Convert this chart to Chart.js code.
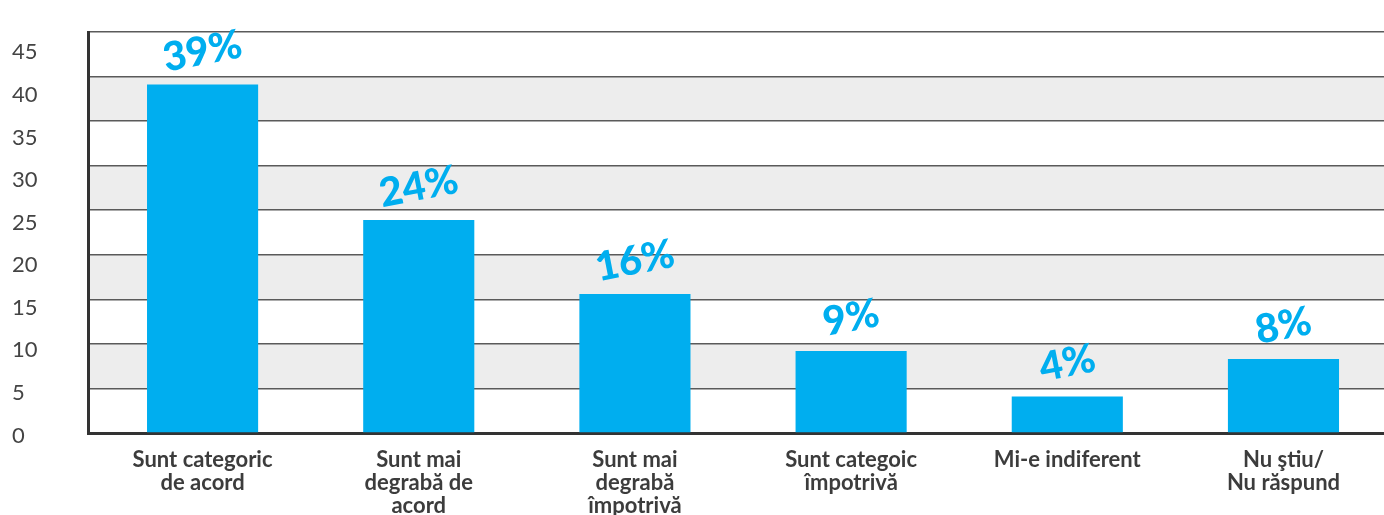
<!DOCTYPE html>
<html>
<head>
<meta charset="utf-8">
<script src="https://cdn.jsdelivr.net/npm/chart.js@4/dist/chart.umd.min.js"></script>
<style>
  html, body { margin: 0; padding: 0; background: #fff; overflow: hidden; }
  #wrap { width: 1384px; height: 515px; position: relative; }
</style>
</head>
<body>
<div id="wrap"><canvas id="barChart"></canvas></div>
<script>
const categories = [
  ['Sunt categoric', 'de acord'],
  ['Sunt mai', 'degrabă de', 'acord'],
  ['Sunt mai', 'degrabă', 'împotrivă'],
  ['Sunt categoic', 'împotrivă'],
  ['Mi-e indiferent'],
  ['Nu ştiu/', 'Nu răspund']
];
const values = [39.1, 23.9, 15.6, 9.2, 4.1, 8.3];
const valueLabels = ['39%', '24%', '16%', '9%', '4%', '8%'];
const yTicks = [0, 5, 10, 15, 20, 25, 30, 35, 40, 45];

const barColor = '#00aeef';
const bandColor = '#ededed';

// grey bands between every other pair of gridlines
const bandPlugin = {
  id: 'bands',
  beforeDraw(chart) {
    const { ctx, chartArea } = chart;
    const y = chart.scales.y;
    ctx.save();
    ctx.fillStyle = bandColor;
    for (let v = 5; v < 45; v += 10) {
      const top = y.getPixelForValue(v + 5);
      const bot = y.getPixelForValue(v);
      ctx.fillRect(chartArea.left, top, chartArea.right - chartArea.left, bot - top);
    }
    ctx.restore();
  }
};

// slanted percentage labels above the bars
const valueLabelPlugin = {
  id: 'valueLabels',
  afterDatasetsDraw(chart) {
    const { ctx } = chart;
    const meta = chart.getDatasetMeta(0);
    ctx.save();
    ctx.fillStyle = barColor;
    ctx.font = '900 40px Lato, "Noto Sans", sans-serif';
    ctx.textAlign = 'center';
    ctx.textBaseline = 'middle';
    meta.data.forEach((bar, i) => {
      ctx.save();
      ctx.translate(bar.x, bar.y - 33);
      ctx.rotate(-11 * Math.PI / 180);
      ctx.fillText(valueLabels[i], 0, 0);
      ctx.restore();
    });
    ctx.restore();
  }
};

const ctx = document.getElementById('barChart').getContext('2d');
new Chart(ctx, {
  type: 'bar',
  data: {
    datasets: [{
      data: values.map((v, i) => ({ x: i, y: v })),
      backgroundColor: barColor,
      borderWidth: 0,
      categoryPercentage: 1,
      barPercentage: 0.514
    }]
  },
  options: {
    responsive: true,
    maintainAspectRatio: false,
    animation: false,
    layout: { padding: { left: 12, right: 0, top: 32, bottom: 0 } },
    plugins: {
      legend: { display: false },
      tooltip: { enabled: false }
    },
    scales: {
      x: {
        type: 'linear',
        offset: false,
        min: -0.53,
        max: 5.465,
        afterBuildTicks: s => { s.ticks = categories.map((_, i) => ({ value: i })); },
        afterFit: s => { s.height = 82; },
        grid: { display: false, drawTicks: false },
        border: { display: true, color: '#333', width: 3 },
        ticks: {
          autoSkip: false,
          maxRotation: 0,
          padding: 15,
          color: '#3c3c3c',
          font: { family: 'Lato, "Noto Sans", sans-serif', size: 22, weight: 'bold', lineHeight: 1.05 },
          callback: v => categories[v]
        }
      },
      y: {
        min: 0,
        max: 45,
        weight: 0,
        afterBuildTicks: s => { s.ticks = yTicks.map(v => ({ value: v })); },
        afterFit: s => { s.width = 0; },
        grid: { color: '#5a5a5a', lineWidth: 1.5, drawTicks: false },
        border: { display: true, color: '#333', width: 3 },
        ticks: { display: false }
      },
      yl: {
        position: 'left',
        weight: 1,
        min: 0.29,
        max: 47.38,
        afterBuildTicks: s => { s.ticks = yTicks.map(v => ({ value: v })); },
        afterFit: s => { s.width = 76; },
        grid: { display: false, drawTicks: false },
        border: { display: false },
        ticks: {
          crossAlign: 'far',
          padding: 0,
          color: '#444',
          font: { family: 'Lato, "Noto Sans", sans-serif', size: 22 }
        }
      }
    }
  },
  plugins: [bandPlugin, valueLabelPlugin]
});
</script>
</body>
</html>
